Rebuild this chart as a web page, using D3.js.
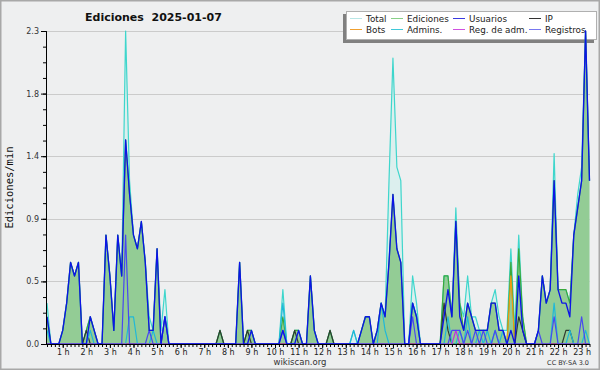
<!DOCTYPE html>
<html>
<head>
<meta charset="utf-8">
<script src="https://cdn.jsdelivr.net/npm/d3@7"></script>
<style>
  body { margin: 0; background: #fff; }
  svg { display: block; }
</style>
</head>
<body>
<div id="chart"></div>
<script>
// 10-minute samples, first one at 00:20, values in edits/min
var startMinute = 20;
var stepMinutes = 10;

var total = [
  0.3,0,0,0,0.1,0.3,0.6,0.5,0.6,0,
  0.1,0.2,0.1,0,0,0.8,0.5,0.1,0.8,0.5,
  2.3,1.2,0.8,0.7,0.9,0.6,0.2,0.1,0.7,0.1,
  0.4,0,0,0,0,0,0,0,0,0,
  0,0,0,0,0.1,0,0,0,0,0.6,
  0,0.1,0.1,0,0,0,0,0,0,0,
  0.4,0,0,0.1,0.1,0,0,0.5,0.1,0,
  0,0,0.1,0,0,0,0,0,0.1,0,
  0.1,0.2,0.2,0,0.1,0.3,0.2,1.2,2.1,1.3,
  1.2,0,0,0.5,0.3,0,0,0,0,0,
  0,0.5,0.5,0.2,1.0,0.3,0.2,0.5,0.2,0.2,
  0.1,0.1,0.1,0.3,0.4,0.2,0.1,0.1,0.7,0.1,
  0.8,0.2,0,0,0,0.1,0.5,0.3,0.4,1.4,
  0.4,0.4,0.4,0.3,0.8,1.1,1.3,2.3,1.2
];
var ediciones = [
  0.2,0,0,0,0.1,0.3,0.6,0.5,0.6,0,
  0.1,0.2,0.1,0,0,0.8,0.5,0.1,0.8,0.5,
  1.5,1.1,0.8,0.7,0.9,0.6,0.1,0.1,0.7,0,
  0.2,0,0,0,0,0,0,0,0,0,
  0,0,0,0,0.1,0,0,0,0,0.6,
  0,0.1,0.1,0,0,0,0,0,0,0,
  0.2,0,0,0.1,0.1,0,0,0.5,0.1,0,
  0,0,0.1,0,0,0,0,0,0,0,
  0.1,0.2,0.2,0,0.1,0.3,0.2,0.6,1.1,0.7,
  0.6,0,0,0.3,0.2,0,0,0,0,0,
  0,0.5,0.5,0.2,0.9,0.3,0.1,0.3,0.2,0.1,
  0.1,0.1,0.1,0.3,0.3,0.1,0.1,0,0.6,0,
  0.7,0.2,0,0,0,0.1,0.5,0.3,0.4,1.2,
  0.4,0.4,0.4,0.3,0.8,1.0,1.2,2.3,1.2
];
var usuarios = [
  0.2,0,0,0,0.1,0.3,0.6,0.5,0.6,0,
  0,0.2,0.1,0,0,0.8,0.5,0.1,0.8,0.5,
  1.5,1.1,0.8,0.7,0.9,0.6,0.1,0.1,0.7,0,
  0.2,0,0,0,0,0,0,0,0,0,
  0,0,0,0,0,0,0,0,0,0.6,
  0,0,0.1,0,0,0,0,0,0,0,
  0.1,0,0,0,0.1,0,0,0.5,0.1,0,
  0,0,0,0,0,0,0,0,0,0,
  0.1,0.2,0.2,0,0.1,0.3,0.2,0.6,1.1,0.7,
  0.6,0,0,0.3,0.2,0,0,0,0,0,
  0,0.2,0.4,0.2,0.9,0.2,0.1,0.3,0.2,0.1,
  0.1,0.1,0.1,0.3,0.3,0.1,0.1,0,0.1,0,
  0.5,0.1,0,0,0,0.1,0.5,0.3,0.4,1.2,
  0.4,0.3,0.3,0.2,0.8,1.0,1.2,2.3,1.2
];
var ip = [
  0,0,0,0,0,0,0,0,0,0,
  0.1,0,0,0,0,0,0,0,0,0,
  0,0,0,0,0,0,0,0,0,0,
  0,0,0,0,0,0,0,0,0,0,
  0,0,0,0,0.1,0,0,0,0,0,
  0,0.1,0,0,0,0,0,0,0,0,
  0,0,0,0.1,0,0,0,0,0,0,
  0,0,0.1,0,0,0,0,0,0,0,
  0,0,0,0,0,0,0,0,0,0,
  0,0,0,0,0,0,0,0,0,0,
  0,0.3,0.1,0,0,0,0,0,0,0,
  0,0,0,0,0,0,0,0,0,0,
  0.2,0.1,0,0,0,0,0,0,0,0,
  0,0,0.1,0.1,0,0,0,0,0
];
var bots = [
  0,0,0,0,0,0,0,0,0,0,
  0,0,0,0,0,0,0,0,0,0,
  0,0,0,0,0,0,0,0,0,0,
  0,0,0,0,0,0,0,0,0,0,
  0,0,0,0,0,0,0,0,0,0,
  0,0,0,0,0,0,0,0,0,0,
  0,0,0,0,0,0,0,0,0,0,
  0,0,0,0,0,0,0,0,0,0,
  0,0,0,0,0,0,0,0,0,0,
  0,0,0,0,0,0,0,0,0,0,
  0,0,0,0,0,0,0,0,0,0,
  0,0,0,0,0,0,0,0,0.5,0,
  0,0,0,0,0,0,0,0,0,0,
  0,0,0,0,0,0,0,0,0
];
var admins = [
  0.1,0,0,0,0,0,0,0,0,0,
  0,0.1,0,0,0,0,0,0,0,0,
  0,0.2,0.2,0,0,0,0,0.1,0,0,
  0,0,0,0,0,0,0,0,0,0,
  0,0,0,0,0,0,0,0,0,0,
  0,0,0,0,0,0,0,0,0,0,
  0.3,0,0,0,0,0,0,0,0,0,
  0,0,0,0,0,0,0,0,0.1,0,
  0,0,0,0,0,0.3,0.1,0,0,0,
  0,0,0,0.3,0.2,0,0,0,0,0,
  0,0,0.2,0,0,0.1,0,0.2,0,0,
  0.1,0,0.1,0,0.1,0,0.1,0,0,0,
  0,0,0,0,0,0,0,0,0,0.3,
  0,0,0,0.1,0,0,0,0.1,0
];
var regAdm = [
  0,0,0,0,0,0,0,0,0,0,
  0,0,0,0,0,0,0,0,0,0,
  0,0,0,0,0,0,0,0,0,0,
  0,0,0,0,0,0,0,0,0,0,
  0,0,0,0,0,0,0,0,0,0,
  0,0,0,0,0,0,0,0,0,0,
  0,0,0,0,0,0,0,0,0,0,
  0,0,0,0,0,0,0,0,0,0,
  0,0,0,0,0,0,0,0,0,0,
  0,0,0,0,0,0,0,0,0,0,
  0,0,0,0,0.1,0,0,0,0,0,
  0,0,0,0,0,0,0,0,0,0,
  0,0,0,0,0,0,0,0,0,0,
  0,0,0,0,0,0,0,0,0
];
var registros = [
  0,0,0,0,0,0,0,0,0,0,
  0,0,0,0,0,0,0,0,0,0,
  0.8,0,0,0,0,0,0.1,0,0,0,
  0.2,0,0,0,0,0,0,0,0,0,
  0,0,0,0,0,0,0,0,0,0,
  0,0,0,0,0,0,0,0,0,0,
  0.1,0,0,0,0,0,0,0,0,0,
  0,0,0,0,0,0,0,0,0,0,
  0,0,0,0,0,0,0,0,0,0,
  0,0,0,0.2,0,0,0,0,0,0,
  0,0,0,0.1,0.1,0.1,0,0.1,0,0.1,
  0,0.1,0,0,0.1,0,0,0,0,0,
  0,0,0,0,0,0.1,0,0,0,0.2,
  0,0,0,0,0,0,0.2,0,0
];

var legendNames = ["Total", "Ediciones", "Usuarios", "IP", "Bots", "Admins.", "Reg. de adm.", "Registros"];
var legendColors = ["#b8e6e6", "#88d088", "#3a3ae0", "#333333", "#f0a030", "#40c8d8", "#d050e0", "#7878f0"];
var yTicks = [0, 0.46, 0.92, 1.38, 1.84, 2.3];
var hourTicks = [1, 2, 3, 4, 5, 6, 7, 8, 9, 10, 11, 12, 13, 14, 15, 16, 17, 18, 19, 20, 21, 22, 23];

function drawChart() {
  var width = 600, height = 370;
  var plotLeft = 46, plotRight = 590, plotTop = 31, plotBottom = 344;

  var svg = d3.select("#chart").append("svg")
    .attr("width", width)
    .attr("height", height)
    .style("font-family", "DejaVu Sans");

  svg.append("rect")
    .attr("x", 0.5).attr("y", 0.5)
    .attr("width", width - 1).attr("height", height - 1)
    .attr("fill", "#eeeff0")
    .attr("stroke", "#a8a8a8")
    .attr("stroke-width", 2);

  var x = d3.scaleLinear()
    .domain([startMinute, startMinute + stepMinutes * (total.length - 1)])
    .range([47, 589.5]);
  var y = d3.scaleLinear().domain([0, 2.3]).range([plotBottom, plotTop]);

  function minuteAt(i) { return startMinute + stepMinutes * i; }

  // grid
  svg.append("g").selectAll("line")
    .data(yTicks.slice(1))
    .enter().append("line")
    .attr("x1", plotLeft).attr("x2", plotRight)
    .attr("y1", function(d) { return Math.round(y(d)) + 0.5; })
    .attr("y2", function(d) { return Math.round(y(d)) + 0.5; })
    .attr("stroke", "#cbcbcb")
    .attr("stroke-width", 1);

  // legend (drawn under the data, like the original)
  var legend = svg.append("g");
  legend.append("rect")
    .attr("x", 343).attr("y", 14).attr("width", 251).attr("height", 29)
    .attr("fill", "#808080");
  legend.append("rect")
    .attr("x", 346.5).attr("y", 11.5).attr("width", 250).attr("height", 28)
    .attr("fill", "#fff").attr("stroke", "#b0b0b0");
  var colX = [350, 391, 453, 529];
  var rowY = [18.5, 29.5];
  legendNames.forEach(function(name, k) {
    var cx = colX[k % 4], cy = rowY[Math.floor(k / 4)];
    legend.append("line")
      .attr("x1", cx).attr("x2", cx + 12)
      .attr("y1", cy).attr("y2", cy)
      .attr("stroke", legendColors[k]).attr("stroke-width", 1);
    legend.append("text")
      .attr("x", cx + 16).attr("y", cy + 3.3)
      .attr("font-size", "8.8px")
      .attr("fill", "#222")
      .text(name);
  });

  var plot = svg.append("g");

  function area(values) {
    return d3.area()
      .x(function(d, i) { return x(minuteAt(i)); })
      .y0(y(0))
      .y1(function(d) { return y(d); })(values);
  }
  function line(values) {
    return d3.line()
      .x(function(d, i) { return x(minuteAt(i)); })
      .y(function(d) { return y(d); })(values);
  }

  plot.append("path").attr("d", area(total)).attr("fill", "#dcefee");
  plot.append("path").attr("d", area(ediciones)).attr("fill", "#93cc95");

  var lines = [
    [total, "#3ed6cc", 1.2],
    [ediciones, "#3aa83a", 1.2],
    [bots, "#f09a10", 1.2],
    [ip, "#2f3a2f", 1.2],
    [admins, "#20b8d8", 1.2],
    [regAdm, "#c030e0", 1.2],
    [registros, "#4848f0", 1.2],
    [usuarios, "#0c14e6", 1.35]
  ];
  lines.forEach(function(s) {
    plot.append("path")
      .attr("d", line(s[0]))
      .attr("fill", "none")
      .attr("stroke", s[1])
      .attr("stroke-width", s[2])
      .attr("stroke-linejoin", "round");
  });

  // axes
  var xMinor = d3.axisBottom(x)
    .tickValues(total.map(function(d, i) { return minuteAt(i); }))
    .tickSize(3).tickFormat("");
  var xMajor = d3.axisBottom(x)
    .tickValues(hourTicks.map(function(h) { return h * 60; }))
    .tickSize(4).tickPadding(1)
    .tickFormat(function(m) { return (m / 60) + " h"; });

  var gx = svg.append("g").attr("transform", "translate(0," + plotBottom + ")");
  gx.call(xMinor);
  var gx2 = svg.append("g").attr("transform", "translate(0," + plotBottom + ")");
  gx2.call(xMajor);
  [gx, gx2].forEach(function(g) {
    g.select(".domain").attr("d", "M" + plotLeft + ",0.5H" + plotRight).attr("stroke", "#000");
    g.selectAll("line").attr("stroke", "#000");
    g.selectAll("text").attr("font-size", "8px").attr("font-family", "DejaVu Sans").attr("fill", "#222");
  });

  var yMinor = d3.axisLeft(y)
    .tickValues(d3.range(0, 21).map(function(k) { return k * 0.115; }))
    .tickSize(3).tickFormat("");
  var yMajor = d3.axisLeft(y)
    .tickValues(yTicks).tickSize(5).tickPadding(2)
    .tickFormat(d3.format(".1f"));
  var gy = svg.append("g").attr("transform", "translate(" + plotLeft + ",0)");
  gy.call(yMinor);
  var gy2 = svg.append("g").attr("transform", "translate(" + plotLeft + ",0)");
  gy2.call(yMajor);
  [gy, gy2].forEach(function(g) {
    g.select(".domain").attr("stroke", "#000");
    g.selectAll("line").attr("stroke", "#000");
    g.selectAll("text").attr("font-size", "8px").attr("font-family", "DejaVu Sans").attr("fill", "#333");
  });

  // titles
  svg.append("text")
    .attr("x", 85).attr("y", 20.5)
    .attr("font-size", "11px").attr("font-weight", "bold")
    .attr("fill", "#111")
    .attr("xml:space", "preserve")
    .text("Ediciones  2025-01-07");

  svg.append("text")
    .attr("transform", "translate(13," + ((plotTop + plotBottom) / 2) + ") rotate(-90)")
    .attr("text-anchor", "middle")
    .attr("font-family", "DejaVu Sans Mono")
    .attr("font-size", "10.5px")
    .attr("fill", "#111")
    .text("Ediciones/min");

  svg.append("text")
    .attr("x", 300).attr("y", 365)
    .attr("text-anchor", "middle")
    .attr("font-size", "8.5px").attr("fill", "#333")
    .text("wikiscan.org");

  svg.append("text")
    .attr("x", 589).attr("y", 365)
    .attr("text-anchor", "end")
    .attr("font-size", "6.5px").attr("fill", "#333")
    .text("CC BY-SA 3.0");
}

drawChart();
</script>
</body>
</html>
